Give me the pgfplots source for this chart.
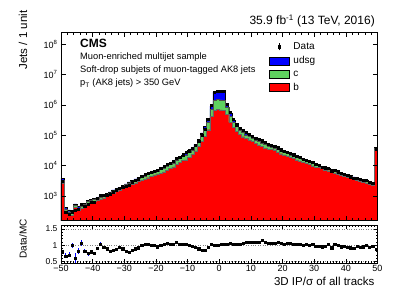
\documentclass[border=0pt]{standalone}
\usepackage{fontspec}
\setmainfont{Liberation Sans}
\usepackage{pgfplots}
\pgfplotsset{compat=1.18}
\usepackage{pgfplotstable}
\definecolor{cmsblue}{RGB}{0,0,255}
\definecolor{cmsgreen}{RGB}{95,210,95}
\definecolor{cmsred}{RGB}{255,0,0}

% x = bin left edge, T = udsg+c+b, C = c+b, B = b, R = Data/MC, E = ratio error
\pgfplotstableread{
x T C B R E
-50 3800 3230 2690 0.80 0.05
-49 427 372 324 0.67 0.08
-48 347 302 264 0.70 0.08
-47 302 263 230 1.00 0.08
-46 550 479 418 0.60 0.15
-45 447 389 340 0.82 0.08
-44 501 467 398 1.07 0.1
-43 575 537 457 0.82 0.07
-42 708 661 562 0.74 0.06
-41 759 708 603 0.80 0.06
-40 832 776 661 0.75 0.05
-39 912 851 724 0.90 0.05
-38 1000 933 794 1.04 0.05
-37 1096 1023 870 0.94 0.04
-36 1202 1122 954 0.89 0.04
-35 1349 1259 1071 0.82 0.04
-34 1585 1479 1258 0.85 0.03
-33 1738 1622 1380 0.87 0.03
-32 1950 1819 1548 0.94 0.03
-31 2188 2041 1737 0.89 0.03
-30 2512 2344 1994 0.82 0.03
-29 2884 2691 2137 0.79 0.03
-28 3311 3089 2453 0.85 0.03
-27 3631 3388 2691 0.89 0.03
-26 3981 3714 2950 0.92 0.02
-25 4467 4168 3310 1.00 0.02
-24 4898 4570 3629 1.04 0.015
-23 5370 5010 3979 1.02 0.015
-22 6026 5622 4465 0.99 0.015
-21 6607 6164 4896 0.99 0.015
-20 7244 6759 5368 0.95 0.015
-19 8128 7413 5495 0.99 0.01
-18 9120 8317 6165 1.02 0.01
-17 10233 9332 6918 1.07 0.01
-16 11749 10715 7942 1.02 0.01
-15 13490 12303 9119 1.04 0.01
-14 15849 14454 10714 1.09 0.01
-13 18621 16982 12588 1.04 0.01
-12 22387 20417 15134 1.02 0.01
-11 25704 22388 15500 1.04 0.01
-10 30903 26917 18635 1.00 0.01
-9 38019 33115 22925 0.97 0.01
-8 50119 43654 30222 0.94 0.01
-7 70795 61662 42689 0.89 0.01
-6 120226 100028 63119 0.84 0.01
-5 190546 151294 91272 0.84 0.01
-4 363078 275576 151404 0.94 0.01
-3 912011 724137 407669 1.04 0.01
-2 2630268 1412538 660693 1.00 0.01
-1 2818383 1479108 691831 0.99 0.01
0 2754229 1445440 676083 1.02 0.01
1 2691535 1412538 660693 1.04 0.01
2 1000000 851138 478630 1.04 0.01
3 524807 426580 263027 1.07 0.01
4 316228 263027 177828 1.04 0.01
5 218776 190546 131826 1.02 0.01
6 165959 147911 104713 1.04 0.01
7 134896 123027 89125 1.07 0.01
8 112202 102329 77625 1.09 0.01
9 97724 91176 70752 1.09 0.01
10 85114 79411 61623 1.10 0.01
11 74131 69164 53671 1.10 0.01
12 66069 61642 47834 1.09 0.01
13 58884 54939 42632 1.14 0.01
14 52481 48965 37996 1.09 0.01
15 47863 44656 34653 1.07 0.01
16 43652 41207 33874 1.07 0.01
17 39811 37582 30893 1.07 0.01
18 35481 33494 27533 1.09 0.01
19 31623 29852 24539 1.05 0.01
20 28840 27225 22380 1.04 0.01
21 26303 24830 20411 1.07 0.01
22 23988 22645 18615 1.05 0.01
23 21878 20653 16977 1.04 0.01
24 19953 18836 15483 1.02 0.01
25 18197 17178 14121 1.04 0.01
26 16596 15667 12878 1.00 0.01
27 15136 14288 11746 1.02 0.01
28 13804 13031 10712 0.99 0.01
29 12589 11884 9769 1.02 0.01
30 11482 10839 8910 0.97 0.01
31 10471 10000 8712 0.97 0.01
32 9550 9120 7946 0.95 0.01
33 8710 8318 7247 0.97 0.01
34 8128 7762 6762 1.02 0.01
35 7413 7079 6168 0.92 0.01
36 6918 6607 5756 1.02 0.01
37 6310 6026 5250 0.99 0.01
38 5888 5623 4899 0.95 0.01
39 5370 5128 4468 0.97 0.01
40 5012 4786 4170 0.94 0.01
41 4677 4467 3891 0.92 0.01
42 4266 4074 3549 0.90 0.01
43 3981 3802 3312 0.97 0.01
44 3715 3548 3091 0.94 0.01
45 3467 3311 2884 0.95 0.01
46 3236 3090 2692 1.00 0.01
47 3020 2884 2512 0.94 0.01
48 2630 2512 2188 0.97 0.01
49 38905 36308 31623 0.87 0.02
50 38905 36308 31623 0.87 0.02
}\hist

\begin{document}
\begin{tikzpicture}
\path[use as bounding box] (-61pt,-72.5pt) rectangle (346pt,220.5pt);
\begin{axis}[
  at={(0pt,0pt)}, anchor=south west, scale only axis,
  width=316.5pt, height=188.5pt,
  xmin=-50, xmax=50, ymode=log, log basis y=10, ymin=155, ymax=2.5e8,
  xtick={-50,-40,...,50}, xticklabels={}, minor x tick num=4,
  ytick={1e3,1e4,1e5,1e6,1e7,1e8},
  yticklabels={10\textsuperscript{3},10\textsuperscript{4},10\textsuperscript{5},10\textsuperscript{6},10\textsuperscript{7},10\textsuperscript{8}},
  yticklabel style={font=\fontsize{9}{10}\selectfont},
  tick align=inside, major tick length=5pt, minor tick length=2.5pt,
  tick style={black, line width=0.4pt},
  axis on top, axis line style={line width=0.6pt},
  legend style={at={(0.648,0.962)}, anchor=north west, draw=none, fill=none,
    font=\fontsize{10}{11}\selectfont, row sep=3.2pt, nodes={inner sep=1.2pt},
    /tikz/every odd column/.append style={column sep=2.5pt}},
  legend cell align=left,
]
\addlegendimage{legend image code/.code={\draw[black,line width=0.5pt] (10pt,-3.5pt)--(10pt,3.5pt); \fill[black](8.9pt,-1.1pt) rectangle (11.1pt,1.1pt);}}
\addlegendentry{Data}
\addlegendimage{legend image code/.code={\draw[fill=cmsblue,draw=black,line width=0.5pt] (0pt,-4pt) rectangle (20pt,4pt);}}
\addlegendentry{udsg}
\addlegendimage{legend image code/.code={\draw[fill=cmsgreen,draw=black,line width=0.5pt] (0pt,-4pt) rectangle (20pt,4pt);}}
\addlegendentry{c}
\addlegendimage{legend image code/.code={\draw[fill=cmsred,draw=black,line width=0.5pt] (0pt,-4pt) rectangle (20pt,4pt);}}
\addlegendentry{b}

\addplot[const plot mark left, fill=cmsblue, draw=black, line width=0.5pt, forget plot] table[x=x, y=T]{\hist} \closedcycle;
\addplot[const plot mark left, fill=cmsgreen, draw=black!70, line width=0.4pt, forget plot] table[x=x, y=C]{\hist} \closedcycle;
\addplot[const plot mark left, fill=cmsred, draw=black!60, line width=0.4pt, forget plot] table[x=x, y=B]{\hist} \closedcycle;
\addplot[only marks, mark=square*, mark size=1.1pt, black, forget plot]
  table[x expr=\thisrow{x}+0.5, y expr=\thisrow{T}*\thisrow{R}]{\hist};
\end{axis}

\begin{axis}[
  at={(0pt,-4.5pt)}, anchor=north west, scale only axis,
  width=316.5pt, height=38pt,
  xmin=-50, xmax=50, ymin=0.45, ymax=1.62,
  xtick={-50,-40,...,50},
  xticklabels={−50,−40,−30,−20,−10,0,10,20,30,40,50},
  minor x tick num=9,
  ytick={0.5,1,1.5}, yticklabels={0.5,1,1.5}, minor y tick num=4,
  xticklabel style={font=\fontsize{9}{10}\selectfont, yshift=1.5pt},
  yticklabel style={font=\fontsize{8.5}{9}\selectfont},
  tick align=inside, major tick length=4pt, minor tick length=2pt,
  tick style={black, line width=0.4pt},
  axis line style={line width=0.6pt},
  ymajorgrids, grid style={dotted, gray, line width=0.4pt},
]
\addplot[only marks, mark=square*, mark size=1.1pt, black,
  error bars/.cd, y dir=both, y explicit,
  error bar style={cmsblue, line width=0.6pt}, error mark=none]
  table[x expr=\thisrow{x}+0.5, y=R, y error=E]{\hist};
\end{axis}

\node[anchor=west, font=\fontsize{12}{13}\selectfont\bfseries] at (15.7pt,177.2pt) {CMS};
\node[anchor=west, font=\fontsize{9.3}{10}\selectfont] at (15.7pt,163.8pt) {Muon-enriched multijet sample};
\node[anchor=west, font=\fontsize{9.3}{10}\selectfont] at (15.7pt,150.5pt) {Soft-drop subjets of muon-tagged AK8 jets};
\node[anchor=west, font=\fontsize{9.3}{10}\selectfont] at (15.7pt,137.2pt) {p\textsubscript{T} (AK8 jets) > 350 GeV};
\node[anchor=east, font=\fontsize{12}{13}\selectfont] at (317.3pt,199.8pt) {35.9 fb\textsuperscript{-1} (13 TeV, 2016)};
\node[rotate=90, anchor=east, font=\fontsize{11.5}{12}\selectfont] at (-38pt,213.5pt) {Jets / 1 unit};
\node[rotate=90, font=\fontsize{10}{11}\selectfont] at (-38pt,-18.5pt) {Data/MC};
\node[anchor=east, font=\fontsize{11.5}{12}\selectfont] at (317pt,-60.5pt) {3D IP/σ of all tracks};
\end{tikzpicture}
\end{document}
